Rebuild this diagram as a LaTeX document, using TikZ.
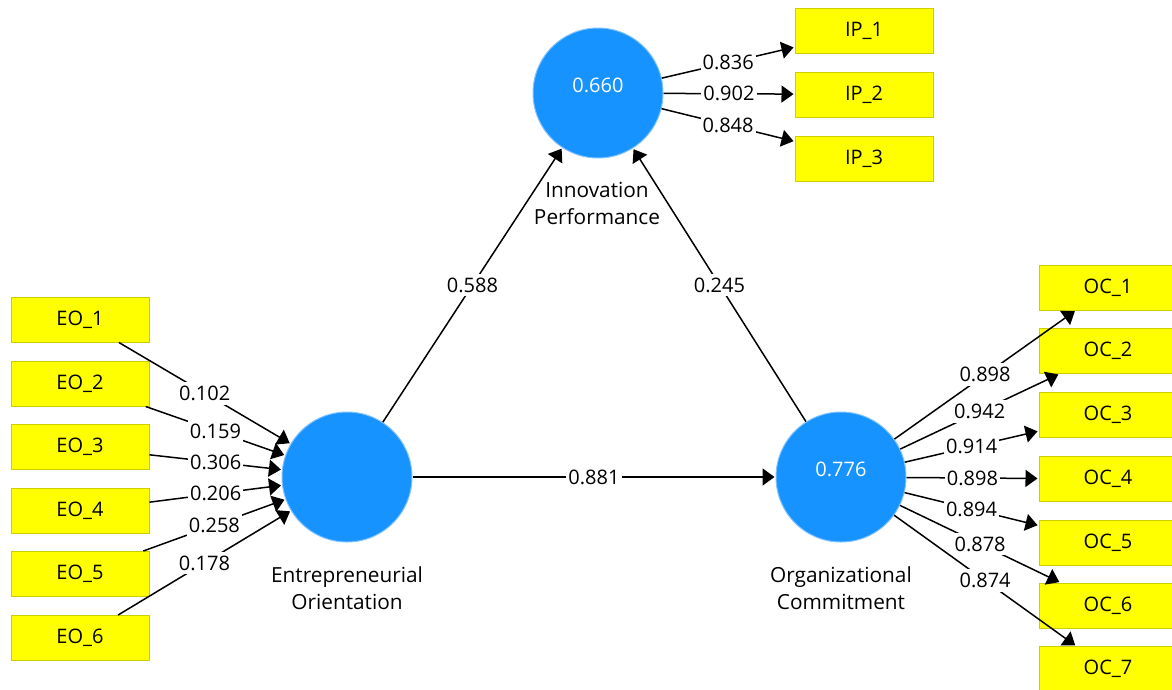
\documentclass[tikz,border=0pt]{standalone}
\usepackage{fontspec}
\setmainfont{Open Sans}
\usetikzlibrary{arrows.meta}
\definecolor{lvfill}{RGB}{22,147,255}
\definecolor{lvedge}{RGB}{130,195,255}
\definecolor{mvfill}{RGB}{255,255,0}
\definecolor{mvedge}{RGB}{205,205,0}
\begin{document}
\begin{tikzpicture}[x=1pt,y=-1pt,
  every node/.style={font=\fontsize{20}{27}\selectfont},
  lv/.style={circle,minimum size=130pt,inner sep=0pt,fill=lvfill,draw=lvedge,line width=1pt},
  mv/.style={rectangle,minimum width=138pt,minimum height=45pt,inner sep=0pt,fill=mvfill,draw=mvedge,line width=1pt},
  link/.style={line width=1.5pt,shorten >=1pt,-{Triangle[length=12pt,width=17pt]}},
  val/.style={fill=white,inner xsep=2pt,inner ysep=4pt},
  lvname/.style={align=center,anchor=north,inner sep=0pt,font=\fontsize{20.8}{27}\selectfont},
  lvval/.style={text=white,inner sep=0pt}]
\useasboundingbox (0,0) rectangle (1172,689);

% latent variables
\node[lv] (EO) at (347,477) {};
\node[lv] (IP) at (598,93) {};
\node[lv] (OC) at (841,477) {};
\node[lvval] (IPr) at ([yshift=8pt]IP.center) {0.660};
\node[lvval] (OCr) at ([yshift=8pt]OC.center) {0.776};
\node[lvname] (EOn) at (347,566) {Entrepreneurial\\Orientation};
\node[lvname] (IPn) at (597,182) {Innovation\\Performance};
\node[lvname] (OCn) at (841,566) {Organizational\\Commitment};

% indicators
\foreach \i/\y in {1/319.5,2/383.5,3/447,4/511,5/574,6/638}
  \node[mv] (EO\i) at (80,\y) {EO\_\i};
\foreach \i/\y in {1/31,2/94.5,3/158.5}
  \node[mv] (IP\i) at (864,\y) {IP\_\i};
\foreach \i/\y in {1/287.5,2/351,3/415,4/479,5/542.5,6/605.5,7/669}
  \node[mv] (OC\i) at (1108,\y) {OC\_\i};

% connectors
\foreach \i in {1,...,6} \draw[link] (EO\i) -- (EO);
\foreach \i in {1,2,3} \draw[link] (IP) -- (IP\i);
\foreach \i in {1,...,7} \draw[link] (OC) -- (OC\i);
\draw[link] (EO) -- (IP);
\draw[link] (OC) -- (IP);
\draw[link] (EO) -- (OC);

% coefficients
\foreach \i/\v in {1/0.102,2/0.159,3/0.306,4/0.206,5/0.258,6/0.178}
  \path (EO\i) -- node[val] {\v} (EO);
\foreach \i/\v in {1/0.836,2/0.902,3/0.848}
  \path (IP) -- node[val] {\v} (IP\i);
\foreach \i/\v in {1/0.898,2/0.942,3/0.914,4/0.898,5/0.894,6/0.878,7/0.874}
  \path (OC) -- node[val] {\v} (OC\i);
\path (EO) -- node[val] {0.588} (IP);
\path (OC) -- node[val] {0.245} (IP);
\path (EO) -- node[val] {0.881} (OC);
\end{tikzpicture}
\end{document}
